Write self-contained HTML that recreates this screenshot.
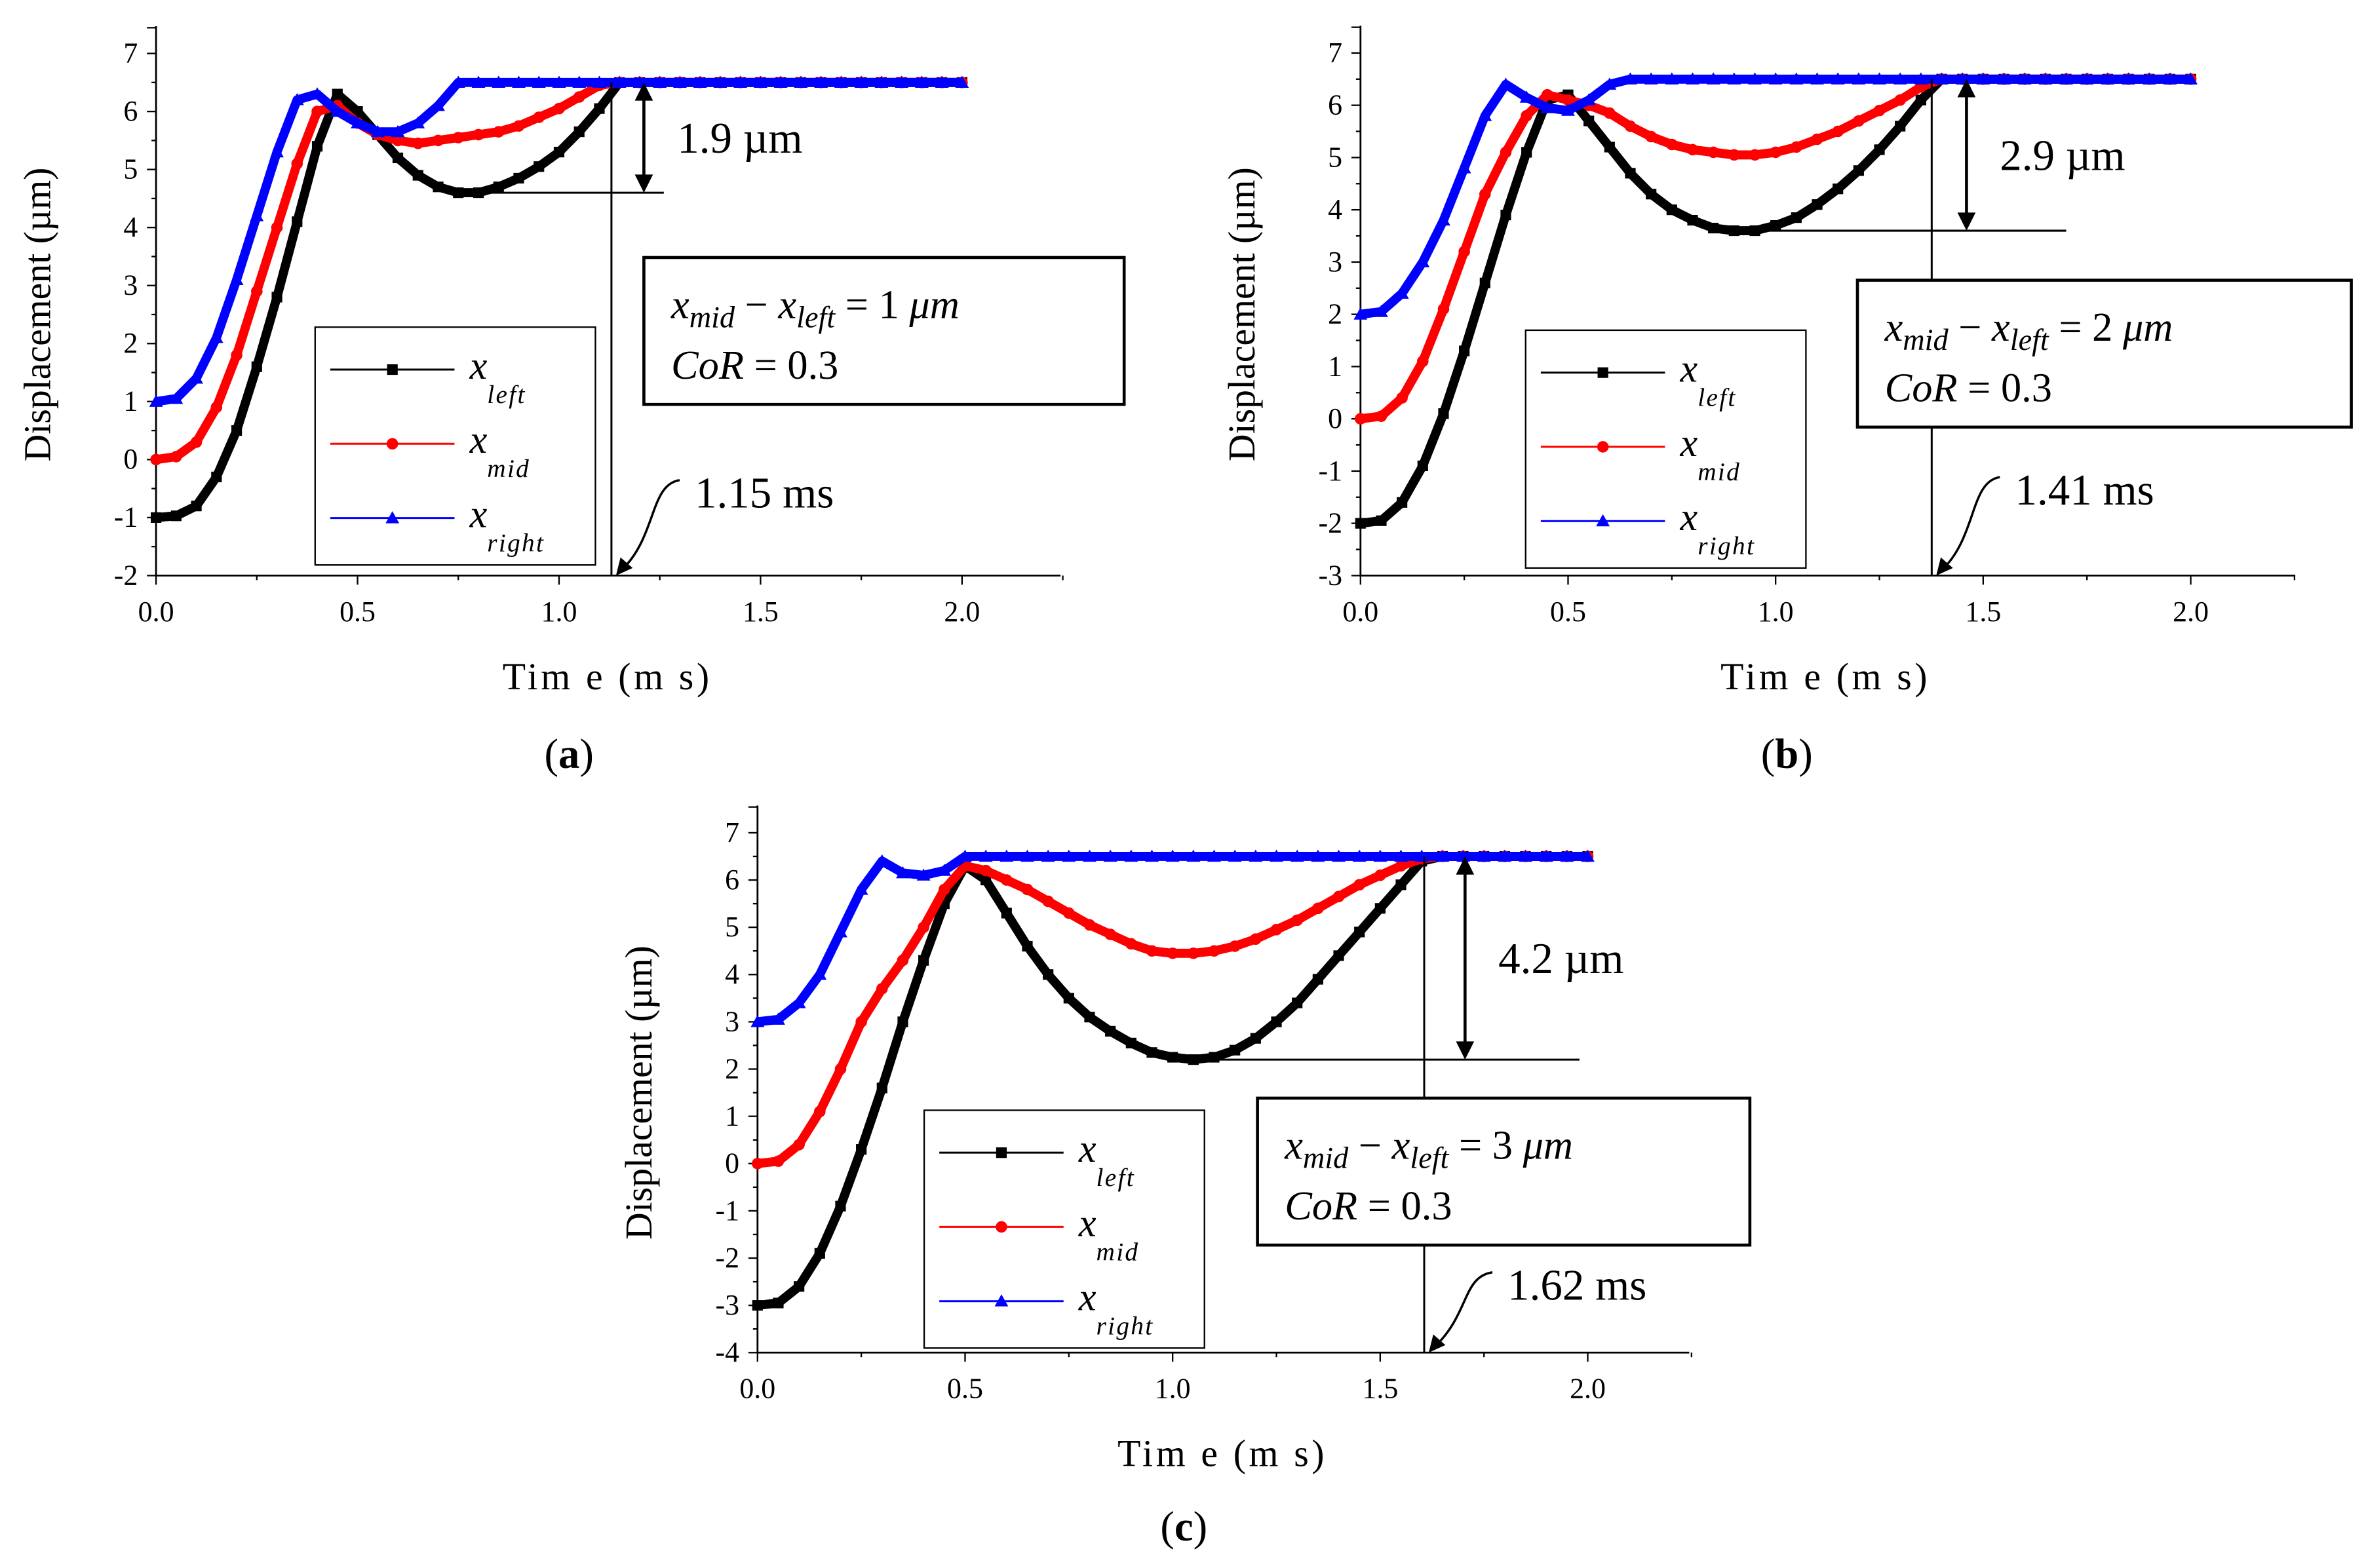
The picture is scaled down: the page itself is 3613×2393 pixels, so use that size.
<!DOCTYPE html>
<html><head><meta charset="utf-8"><style>
html,body{margin:0;padding:0;background:#fff}
svg{display:block}
text{font-family:"Liberation Serif",serif;fill:#000}
</style></head><body>
<svg id="fig" width="3613" height="2393" viewBox="0 0 1563 1035.2" preserveAspectRatio="none" xmlns="http://www.w3.org/2000/svg">
</svg>
<script>
const times=[0,0.05,0.1,0.15,0.2,0.25,0.3,0.35,0.4,0.45,0.5,0.55,0.6,0.65,0.7,0.75,0.8,0.85,0.9,0.95,1.0,1.05,1.1,1.15,1.2,1.25,1.3,1.35,1.4,1.45,1.5,1.55,1.6,1.65,1.7,1.75,1.8,1.85,1.9,1.95,2.0];
const aLeft=[-1,-0.97,-0.8,-0.3,0.5,1.6,2.8,4.1,5.4,6.3,6.0,5.6,5.2,4.9,4.7,4.6,4.6,4.7,4.85,5.05,5.3,5.65,6.05,6.5,6.5,6.5,6.5,6.5,6.5,6.5,6.5,6.5,6.5,6.5,6.5,6.5,6.5,6.5,6.5,6.5,6.5];
const aMid=[0,0.05,0.3,0.9,1.8,2.9,4.0,5.1,6.0,6.1,5.8,5.6,5.5,5.45,5.5,5.55,5.6,5.65,5.75,5.9,6.05,6.25,6.45,6.5,6.5,6.5,6.5,6.5,6.5,6.5,6.5,6.5,6.5,6.5,6.5,6.5,6.5,6.5,6.5,6.5,6.5];
const aRight=[1,1.05,1.4,2.1,3.1,4.2,5.3,6.2,6.3,6.0,5.8,5.65,5.65,5.8,6.1,6.5,6.5,6.5,6.5,6.5,6.5,6.5,6.5,6.5,6.5,6.5,6.5,6.5,6.5,6.5,6.5,6.5,6.5,6.5,6.5,6.5,6.5,6.5,6.5,6.5,6.5];
const bLeft=[-2,-1.95,-1.6,-0.9,0.1,1.3,2.6,3.9,5.1,6.1,6.2,5.7,5.2,4.7,4.3,4.0,3.8,3.65,3.6,3.6,3.7,3.85,4.1,4.4,4.75,5.15,5.6,6.1,6.5,6.5,6.5,6.5,6.5,6.5,6.5,6.5,6.5,6.5,6.5,6.5,6.5];
const bMid=[0,0.05,0.4,1.1,2.1,3.2,4.3,5.1,5.8,6.2,6.1,6.0,5.85,5.6,5.4,5.25,5.15,5.1,5.05,5.05,5.1,5.2,5.35,5.5,5.7,5.9,6.1,6.35,6.5,6.5,6.5,6.5,6.5,6.5,6.5,6.5,6.5,6.5,6.5,6.5,6.5];
const bRight=[2,2.05,2.4,3.0,3.8,4.8,5.8,6.4,6.15,5.95,5.9,6.1,6.4,6.5,6.5,6.5,6.5,6.5,6.5,6.5,6.5,6.5,6.5,6.5,6.5,6.5,6.5,6.5,6.5,6.5,6.5,6.5,6.5,6.5,6.5,6.5,6.5,6.5,6.5,6.5,6.5];
const cLeft=[-3,-2.95,-2.6,-1.9,-0.9,0.3,1.6,3.0,4.3,5.5,6.3,6.0,5.3,4.6,4.0,3.5,3.1,2.8,2.55,2.35,2.25,2.2,2.25,2.4,2.65,3.0,3.4,3.9,4.4,4.9,5.4,5.9,6.4,6.5,6.5,6.5,6.5,6.5,6.5,6.5,6.5];
const cMid=[0,0.05,0.4,1.1,2.0,3.0,3.7,4.3,5.0,5.8,6.3,6.2,6.0,5.8,5.55,5.3,5.05,4.85,4.65,4.5,4.45,4.45,4.5,4.6,4.75,4.95,5.15,5.4,5.65,5.9,6.1,6.3,6.45,6.5,6.5,6.5,6.5,6.5,6.5,6.5,6.5];
const cRight=[3,3.05,3.4,4.0,4.9,5.8,6.4,6.15,6.1,6.2,6.5,6.5,6.5,6.5,6.5,6.5,6.5,6.5,6.5,6.5,6.5,6.5,6.5,6.5,6.5,6.5,6.5,6.5,6.5,6.5,6.5,6.5,6.5,6.5,6.5,6.5,6.5,6.5,6.5,6.5,6.5];
const xTicks=["0.0","0.5","1.0","1.5","2.0"];

const svg=document.getElementById('fig');
const NS="http://www.w3.org/2000/svg";
function el(tag,attrs,parent,txt){const e=document.createElementNS(NS,tag);for(const k in attrs)e.setAttribute(k,attrs[k]);if(txt!==undefined)e.textContent=txt;(parent||svg).appendChild(e);return e;}

function marker(g,type,x,y,color){
  let m;
  if(type==='sq'){m=el('rect',{x:x-3.5,y:y-3.5,width:7,height:7,fill:color},g);}
  else if(type==='ci'){m=el('circle',{cx:x,cy:y,r:3.8,fill:color},g);}
  else {m=el('path',{d:`M${x},${y-4.5} L${x+4.5},${y+3.5} L${x-4.5},${y+3.5} Z`,fill:color},g);}
  
  
}

function panel(o){
  const g=el('g',{});
  
  
  const X=t=>o.x0+t*o.pxms, Y=v=>o.y0-(v-o.ymin)*o.pxu;
  const yTop=Y(o.ymax)-18;
  const ax=el('path',{d:`M${o.x0},${yTop} L${o.x0},${o.y0} L${o.xr},${o.y0}`,stroke:'#000','stroke-width':1.2,fill:'none'},g);
  
  
  for(let v=o.ymin;v<=o.ymax;v++){
    el('line',{x1:o.x0-6,x2:o.x0,y1:Y(v),y2:Y(v),stroke:'#000','stroke-width':1},g);
    if(v<o.ymax) el('line',{x1:o.x0-3,x2:o.x0,y1:Y(v+0.5),y2:Y(v+0.5),stroke:'#000','stroke-width':1},g);
    const t=el('text',{x:o.x0-12,y:Y(v)+6,'font-size':19,'text-anchor':'end'},g,String(v));
    
    
  }
  el('line',{x1:o.x0-6,x2:o.x0,y1:Y(o.ymax)-17,y2:Y(o.ymax)-17,stroke:'#000','stroke-width':1},g);
  xTicks.forEach((s,i)=>{
    const t=parseFloat(s);
    el('line',{x1:X(t),x2:X(t),y1:o.y0,y2:o.y0+6,stroke:'#000','stroke-width':1},g);
    el('line',{x1:X(t+0.25),x2:X(t+0.25),y1:o.y0,y2:o.y0+3,stroke:'#000','stroke-width':1},g);
    const tl=el('text',{x:X(t),y:o.y0+30,'font-size':19,'text-anchor':'middle'},g,s);
    
    
  });
  const yt=el('text',{x:0,y:0,'font-size':25,'text-anchor':'middle',transform:`translate(${o.x0-70},${(Y(o.ymax)+o.y0)/2}) rotate(-90)`},g,'Displacement (µm)');
  
  
  const xt=el('text',{x:X(1.12),y:o.y0+75,'font-size':25,'text-anchor':'middle','letter-spacing':'2'},g,'Tim e (m s)');
  
  
  const pl=el('text',{x:X(1.1)-20,y:o.y0+o.lblOff,'font-size':28,'text-anchor':'middle'},g);
  pl.innerHTML='(<tspan font-weight="bold">'+o.id+'</tspan>)';
  
  
  const series=[[o.left,'#000','sq','series-left'],[o.mid,'#f00','ci','series-mid'],[o.right,'#00f','tr','series-right']];
  series.forEach(([vals,col,mk,name])=>{
    const sg=el('g',{},g);
    
    
    el('polyline',{points:vals.map((v,i)=>X(times[i])+','+Y(v)).join(' '),fill:'none',stroke:col,'stroke-width':6,'stroke-linejoin':'round'},sg);
    vals.forEach((v,i)=>marker(sg,mk,X(times[i]),Y(v),col));
  });
  const a=o.ann;
  el('line',{x1:X(a.tEnd),x2:X(a.tEnd),y1:Y(6.5),y2:o.y0,stroke:'#000','stroke-width':1.3},g);
  el('line',{x1:X(a.hx1),x2:X(a.hx2),y1:Y(a.min),y2:Y(a.min),stroke:'#000','stroke-width':1.3},g);
  const arr=el('g',{},g);
  
  
  el('line',{x1:a.ax,x2:a.ax,y1:Y(6.5)+9,y2:Y(a.min)-9,stroke:'#000','stroke-width':2},arr);
  el('path',{d:`M${a.ax-6},${Y(6.5)+12} L${a.ax},${Y(6.5)} L${a.ax+6},${Y(6.5)+12} Z`,fill:'#000'},arr);
  el('path',{d:`M${a.ax-6},${Y(a.min)-12} L${a.ax},${Y(a.min)} L${a.ax+6},${Y(a.min)-12} Z`,fill:'#000'},arr);
  const dl=el('text',{x:a.ax+22,y:(Y(6.5)+Y(a.min))/2+10,'font-size':29},g,a.dtxt);
  
  
  const bx=el('g',{},g);
  
  
  el('rect',{x:a.bx,y:a.by,width:a.bw,height:97,fill:'#fff',stroke:'#000','stroke-width':2},bx);
  const t1=el('text',{x:a.bx+18,y:a.by+40,'font-size':27,'font-style':'italic'},bx);
  t1.innerHTML='x<tspan font-size="20" dy="6">mid</tspan><tspan dy="-6" font-style="normal"> − </tspan>x<tspan font-size="20" dy="6">left</tspan><tspan dy="-6" font-style="normal"> = '+a.gap+' </tspan>μm';
  el('text',{x:a.bx+18,y:a.by+80,'font-size':27,'font-style':'italic'},bx).innerHTML='CoR<tspan font-style="normal"> = 0.3</tspan>';
  const tg=el('g',{},g);
  
  
  el('text',{x:X(a.tEnd)+55,y:a.ty,'font-size':29},tg,a.ttxt);
  el('path',{d:`M${X(a.tEnd)+45},${a.ty-18} C${X(a.tEnd)+25},${a.ty-15} ${X(a.tEnd)+30},${o.y0-25} ${X(a.tEnd)+6},${o.y0-3}`,fill:'none',stroke:'#000','stroke-width':1.5},tg);
  el('path',{d:`M${X(a.tEnd)+3},${o.y0} l3,-12 l8,7 z`,fill:'#000'},tg);
  const lg=el('g',{},g);
  
  
  el('rect',{x:a.lx,y:a.ly,width:185,height:157,fill:'#fff',stroke:'#000','stroke-width':1},lg);
  [['#000','sq','left'],['#f00','ci','mid'],['#00f','tr','right']].forEach(([c,mk,s],i)=>{
    const yy=a.ly+28+i*49;
    const le=el('g',{},lg);
    
    
    el('line',{x1:a.lx+10,x2:a.lx+92,y1:yy,y2:yy,stroke:c,'stroke-width':1.3},le);
    marker(le,mk,a.lx+51,yy,c);
    el('text',{x:a.lx+102,y:yy+6,'font-size':26,'font-style':'italic'},le).innerHTML='x<tspan font-size="17" dy="16" letter-spacing="1">'+s+'</tspan>';
  });
}

panel({id:'a',x0:103,y0:380,pxms:266,ymin:-2,ymax:7,pxu:38.3,xr:700,left:aLeft,mid:aMid,right:aRight,lblOff:127,
  ann:{tEnd:1.13,min:4.6,hx1:0.75,hx2:1.26,ax:425,dtxt:'1.9 µm',bx:425,by:170,bw:317,gap:'1',ty:335,ttxt:'1.15 ms',lx:208,ly:216}});
panel({id:'b',x0:898,y0:380,pxms:274,ymin:-3,ymax:7,pxu:34.5,xr:1515,left:bLeft,mid:bMid,right:bRight,lblOff:127,
  ann:{tEnd:1.376,min:3.6,hx1:0.92,hx2:1.7,ax:1298,dtxt:'2.9 µm',bx:1226,by:185,bw:326,gap:'2',ty:333,ttxt:'1.41 ms',lx:1007,ly:218}});
panel({id:'c',x0:500,y0:893,pxms:274,ymin:-4,ymax:7,pxu:31.2,xr:1115,left:cLeft,mid:cMid,right:cRight,lblOff:124,
  ann:{tEnd:1.606,min:2.2,hx1:1.05,hx2:1.98,ax:967,dtxt:'4.2 µm',bx:830,by:725,bw:325,gap:'3',ty:858,ttxt:'1.62 ms',lx:610,ly:733}});
</script>
</body></html>
